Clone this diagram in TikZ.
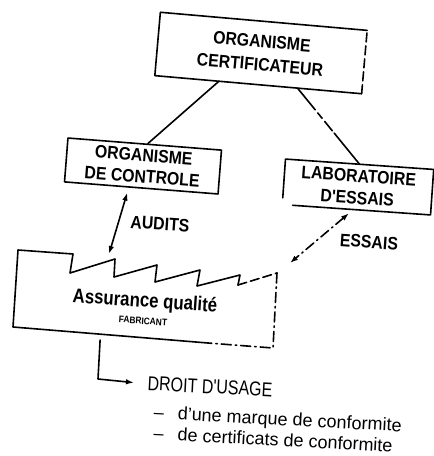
\documentclass[tikz,border=0pt]{standalone}
\usepackage{fontspec}
\setmainfont{Liberation Sans}
\newfontfamily\boxfont[FakeStretch=0.88]{Liberation Sans}
\newfontfamily\condfont[FakeStretch=0.8]{Liberation Sans}
\newfontfamily\aqfont[FakeStretch=0.84]{Liberation Sans}
\usetikzlibrary{arrows.meta,calc}
\begin{document}
\begin{tikzpicture}[x=1pt,y=-1pt,
  line width=1.6pt, line cap=round, line join=round,
  boxtext/.style={font=\boxfont\bfseries\fontsize{18}{23}\selectfont, align=center, inner sep=0pt},
  lbl/.style={font=\boxfont\bfseries\fontsize{18}{22}\selectfont, inner sep=0pt},
  aqtext/.style={font=\aqfont\bfseries\fontsize{20}{24}\selectfont, inner sep=0pt},
  fabtext/.style={font=\boxfont\bfseries\fontsize{9.5}{11}\selectfont, inner sep=0pt},
  droittext/.style={font=\condfont\fontsize{20}{24}\selectfont, inner ysep=0pt, inner xsep=13pt},
  lowtext/.style={font=\fontsize{18}{22}\selectfont, inner sep=0pt},
  tip/.tip={Latex[length=8pt,width=5.5pt]},
  dbl/.style={tip-tip},
  dashdot/.style={dash pattern=on 10pt off 4pt on 1.5pt off 4pt},
  longdash/.style={dash pattern=on 9pt off 4pt},
  partdash/.style={dash pattern=on 28pt off 4pt on 7pt off 4pt on 12pt off 3pt on 40pt}
]
\useasboundingbox (0,0) rectangle (434,456);

% --- boxes ---
\node[boxtext, minimum width=206pt, minimum height=62pt, rotate=-5] (T) at (261,53) {ORGANISME\\CERTIFICATEUR};
\draw (T.north east) -- (T.north west) -- (T.south west) -- (T.south east);
\draw[longdash] (T.south east) -- (T.north east);

\node[boxtext, font=\boxfont\bfseries\fontsize{18}{21}\selectfont, draw, minimum width=154pt, minimum height=44pt, rotate=-4.5] (L) at (143,166) {ORGANISME\\DE CONTROLE};

\node[boxtext, font=\boxfont\bfseries\fontsize{18}{22}\selectfont, minimum width=147pt, minimum height=44pt, rotate=-4] (R) at (358,187) {LABORATOIRE\\D'ESSAIS};
\draw ($(R.north west)!0.85!(R.south west)$) -- (R.north west) -- (R.north east) -- (R.south east) -- ($(R.south west)!0.07!(R.south east)$);

% --- connectors between boxes ---
\draw ($(T.south west)!0.31!(T.south east)$) -- ($(L.north west)!0.52!(L.north east)$);
\draw[partdash] ($(T.south west)!0.69!(T.south east)$) -- ($(R.north west)!0.5!(R.north east)$);

% --- assurance qualite (factory shape) ---
\coordinate (q0) at (18,250);
\coordinate (q1) at (73,254);
\coordinate (q2) at (70,273);
\coordinate (q3) at (115,259);
\coordinate (q4) at (114,277);
\coordinate (q5) at (157,265);
\coordinate (q6) at (155,282);
\coordinate (q7) at (200,270);
\coordinate (q8) at (197,286);
\coordinate (q9) at (240,275);
\coordinate (q10) at (238,285);
\coordinate (tr) at (277,273);
\coordinate (br) at (273,348);
\coordinate (bl) at (13,327);
\coordinate (bm) at (208,343);
\draw (q10) -- (q9) -- (q8) -- (q7) -- (q6) -- (q5) -- (q4) -- (q3) -- (q2) -- (q1) -- (q0) -- (bl) -- (bm);
\draw[longdash] (q10) -- (tr);
\draw[dashdot] (tr) -- (br) -- (bm);

\node[aqtext, rotate=-4] (aq) at (145,302) {Assurance qualité};
\node[fabtext, rotate=-4] (fab) at (143,321) {FABRICANT};

% --- AUDITS ---
\coordinate (aud) at (109,254);
\draw[dbl] ($(L.south west)!0.41!(L.south east)+(0,5)$) -- (aud);
\node[lbl, rotate=-4] (audits) at (160,224) {AUDITS};

% --- ESSAIS ---
\coordinate (ess) at (290,263);
\draw[dbl, dashdot] ($(R.south west)!0.45!(R.south east)+(0,4)$) -- (ess);
\node[lbl, rotate=-4] (essais) at (369,242) {ESSAIS};

% --- DROIT D'USAGE ---
\node[droittext, anchor=west, rotate=-3] (droit) at (134,382.6) {DROIT D'USAGE};
\coordinate (s0) at ($(bl)!0.335!(br)+(0,6)$);
\coordinate (c0) at (98,379);
\draw[-tip] (s0) -- (c0) -- (droit.west);

\node[lowtext, anchor=west, rotate=-3] (m1) at (153,414) {–\hspace{14pt}d'une marque de conformite};
\node[lowtext, anchor=west, rotate=-3] (m2) at (153,433) {–\hspace{14pt}de certificats de conformite};
\end{tikzpicture}
\end{document}
